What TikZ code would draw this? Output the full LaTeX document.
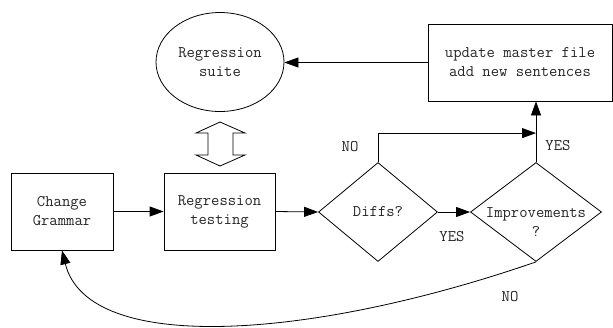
\documentclass[tikz,border=0pt]{standalone}
\usetikzlibrary{arrows.meta,shapes.geometric,calc}
\begin{document}
\begin{tikzpicture}[x=1bp,y=-1bp,
  every node/.style={font=\ttfamily\fontsize{16.2bp}{19bp}\selectfont, text=black!85},
  box/.style={draw, line width=0.8bp, rectangle, inner sep=0pt, minimum height=77bp, align=center},
  ell/.style={draw, line width=0.8bp, ellipse, inner sep=0pt, minimum width=128bp, minimum height=99bp, align=center},
  dia/.style={draw, line width=0.8bp, diamond, inner sep=0pt},
  lbl/.style={inner sep=0pt},
  arr/.style={line width=0.8bp, -{Triangle[length=14bp,width=10bp]}},
  link/.style={line width=0.8bp}]
\useasboundingbox (0,0) rectangle (613,327);
\node[ell] (suite) at (220,62) {Regression\\suite};
\node[box, minimum width=184bp] (master) at (520,62.5) {update master file\\add new sentences};
\node[box, minimum width=102bp] (cg) at (62,211.5) {Change\\Grammar};
\node[box, minimum width=111bp] (rt) at (219.5,211.5) {Regression\\testing};
\node[dia, minimum width=119bp, minimum height=99bp] (diffs) at (378,212) {};
\node[lbl] at (diffs.center) {Diffs?};
\node[dia, minimum width=131bp, minimum height=99bp] (imp) at (536,212) {};
\node[lbl, align=center] (imptext) at (536,222) {Improvements\\?};
\coordinate (nj) at ($(imp.north)+(0,-29)$);
% labels
\node[lbl] (no1) at (350,147) {NO};
\node[lbl] (yes1) at (558,146) {YES};
\node[lbl] (yes2) at (452,237) {YES};
\node[lbl] (no2) at (510,297) {NO};
% connectors
\draw[arr] (master.west) -- (master.west -| suite.east);
\draw[arr] (cg.east) -- (rt.west);
\draw[arr] (rt.east) -- (diffs.west);
\draw[arr] (diffs.east) -- (imp.west);
\draw[arr] (imp.north) -- (imp.north |- master.south);
\draw[arr] (diffs.north) |- (nj);
\draw[arr] (imp.south) .. controls (310,340) and (88,355) .. (cg.south);
% double arrow between suite and testing
\draw[link, fill=white] (220,122) -- (245,133) -- (233,133) -- (233,155) -- (245,155) -- (220,166)
  -- (196,155) -- (208,155) -- (208,133) -- (196,133) -- cycle;
\end{tikzpicture}
\end{document}
